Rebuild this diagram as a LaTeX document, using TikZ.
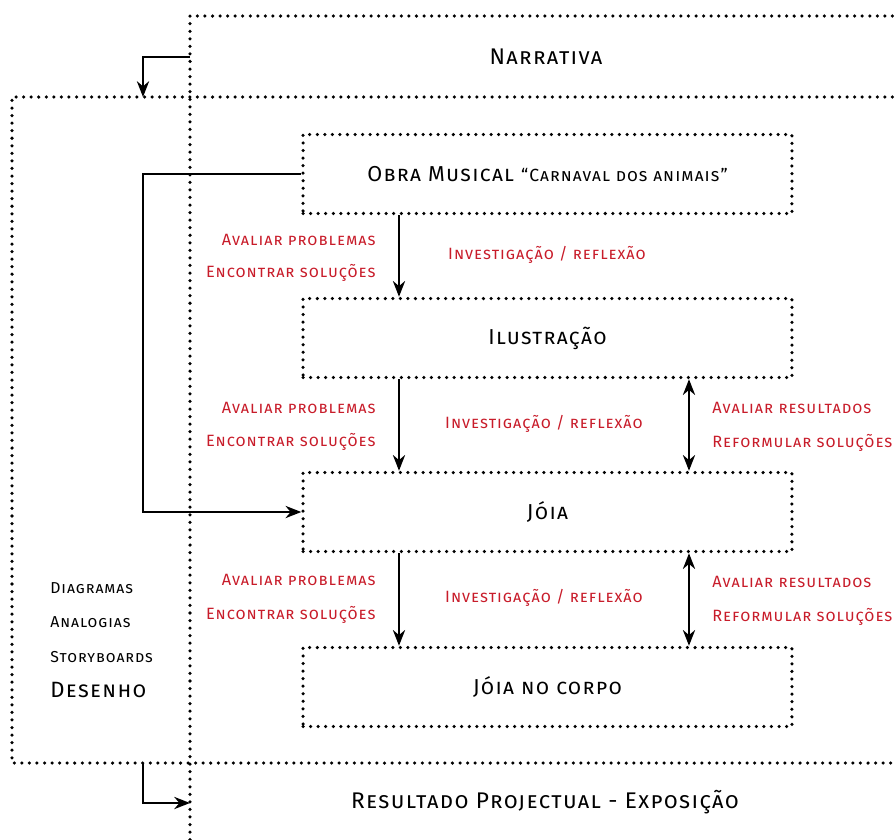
\documentclass[tikz,border=0pt]{standalone}
\usepackage{fontspec}
\setmainfont{Fira Sans}
\newfontfamily\spacedfont[LetterSpace=6]{Fira Sans}
\usetikzlibrary{arrows.meta}

\definecolor{labred}{RGB}{200,28,42}
\tikzset{
  dotline/.style={line width=2pt, dash pattern=on 0pt off 4.3pt, line cap=round},
  stagebox/.style={dotline, draw, minimum width=9.78cm, minimum height=1.58cm,
    font=\spacedfont\fontsize{12.3}{14}\selectfont\scshape},
  conn/.style={line width=1pt, -{Stealth[length=9pt,width=7pt]}},
  bothconn/.style={line width=1pt, {Stealth[length=9pt,width=7pt]}-{Stealth[length=9pt,width=7pt]}},
  redlab/.style={text=labred, font=\spacedfont\fontsize{9.3}{11}\selectfont\scshape, inner sep=0pt},
  sidelab/.style={font=\spacedfont\fontsize{9}{11}\selectfont\scshape, inner sep=0pt, anchor=west},
  framelab/.style={font=\spacedfont\fontsize{12.9}{15}\selectfont\scshape, inner sep=0pt}
}

\begin{document}
\begin{tikzpicture}[x=0.02cm, y=-0.02cm]
\useasboundingbox (0,0) rectangle (896,839);

% outer frames
\draw[dotline] (900,16) -- (190,16) -- (190,842);
\draw[dotline] (900,97) -- (12,97) -- (12,763) -- (900,763);
\node[framelab] (narr) at (546,57) {Narrativa};
\node[framelab] (expo) at (545,802) {Resultado Projectual - Exposição};

% stages
\node[stagebox] (obra) at (547.5,174) {Obra Musical {\fontsize{10}{12}\selectfont “Carnaval dos animais”}};
\node[stagebox] (ilus) at (547.5,338) {Ilustração};
\node[stagebox] (joia) at (547.5,512) {Jóia};
\node[stagebox] (corpo) at (547.5,687) {Jóia no corpo};

\coordinate (lx) at (399,0);
\coordinate (rx) at (689,0);
\coordinate (loopx) at (143,0);

\draw[conn] (obra.south -| lx) -- (ilus.north -| lx);
\draw[conn] (ilus.south -| lx) -- (joia.north -| lx);
\draw[conn] (joia.south -| lx) -- (corpo.north -| lx);
\draw[bothconn] (ilus.south -| rx) -- (joia.north -| rx);
\draw[bothconn] (joia.south -| rx) -- (corpo.north -| rx);
\draw[conn] (obra.west) -- (obra.west -| loopx) |- (joia.west);

% frame arrows
\coordinate (nstart) at (190,57);
\coordinate (nend) at (143,97);
\draw[conn] (nstart) -| (nend);
\coordinate (rstart) at (143,763);
\coordinate (rend) at (190,803);
\draw[conn] (rstart) |- (rend);

% red labels
\node[redlab, anchor=east] (ap1) at (376,240) {Avaliar problemas};
\node[redlab, anchor=east] (es1) at (376,273) {Encontrar soluções};
\node[redlab] (ir1) at (547,255) {Investigação / reflexão};
\node[redlab, anchor=east] (ap2) at (376,408) {Avaliar problemas};
\node[redlab, anchor=east] (es2) at (376,442) {Encontrar soluções};
\node[redlab] (ir2) at (544,424) {Investigação / reflexão};
\node[redlab, anchor=west] (ar2) at (712,408) {Avaliar resultados};
\node[redlab, anchor=west] (rs2) at (712,443) {Reformular soluções};
\node[redlab, anchor=east] (ap3) at (376,580) {Avaliar problemas};
\node[redlab, anchor=east] (es3) at (376,615) {Encontrar soluções};
\node[redlab] (ir3) at (544,598) {Investigação / reflexão};
\node[redlab, anchor=west] (ar3) at (712,582) {Avaliar resultados};
\node[redlab, anchor=west] (rs3) at (712,617) {Reformular soluções};

% tools
\node[sidelab] (diag) at (50,588) {Diagramas};
\node[sidelab] (anal) at (50,622) {Analogias};
\node[sidelab] (story) at (50,657) {Storyboards};
\node[sidelab, font=\spacedfont\fontsize{12.6}{15}\selectfont\scshape] (des) at (50,690) {Desenho};
\end{tikzpicture}
\end{document}
